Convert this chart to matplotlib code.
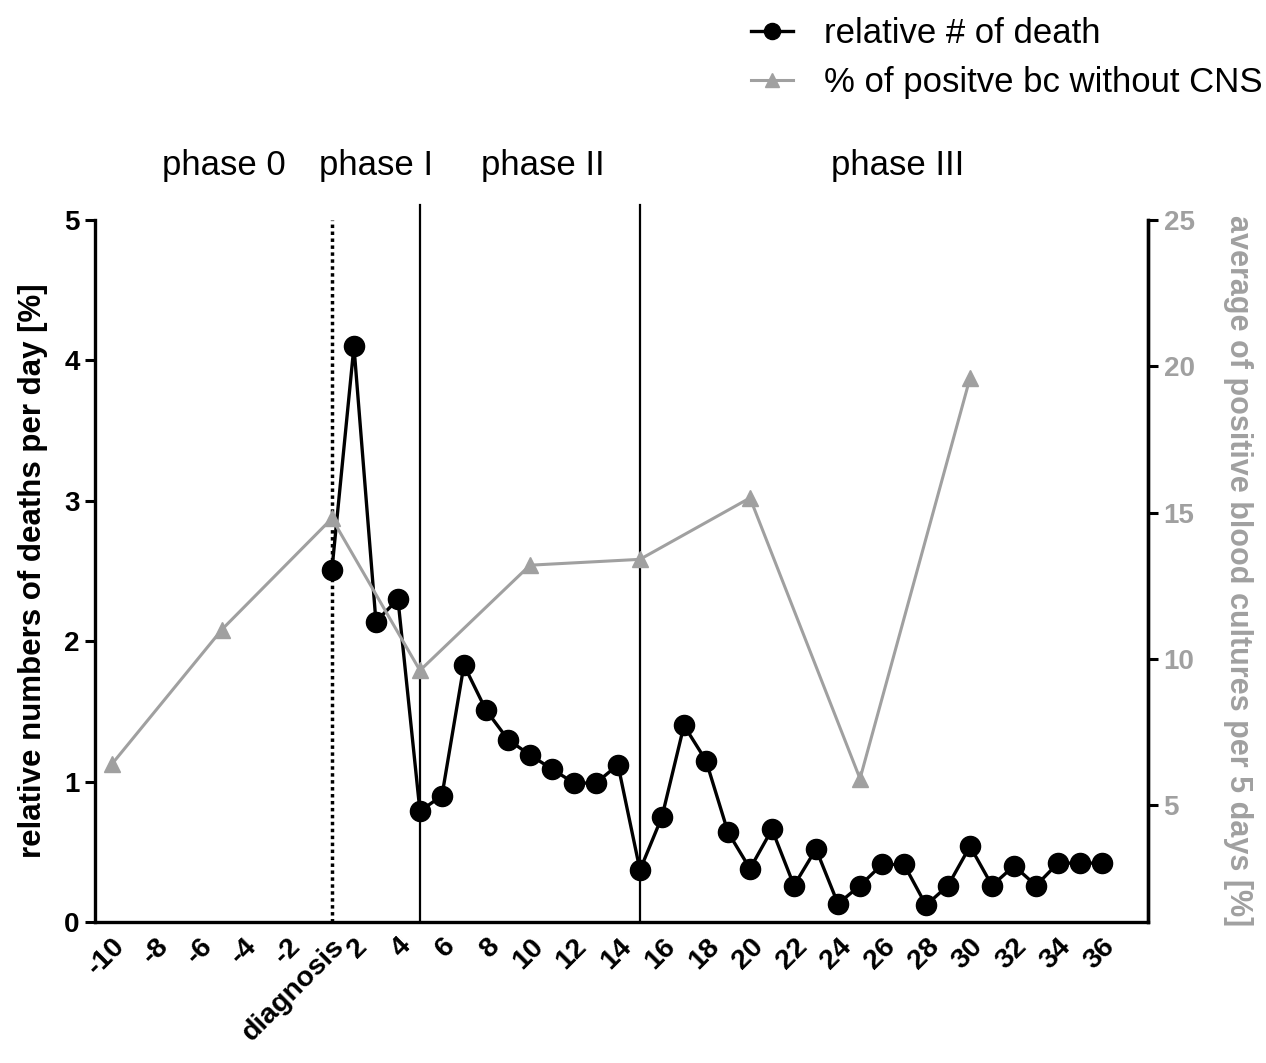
import matplotlib.pyplot as plt

plt.rcParams['font.family'] = ['Liberation Sans', 'DejaVu Sans']

GRAY = '#a0a0a0'

# day 1 = diagnosis; the axis has no separate day 0
death_days = list(range(1, 37))
death_pct = [2.51, 4.10, 2.14, 2.30, 0.79, 0.90, 1.83, 1.51, 1.30, 1.19,
             1.09, 0.99, 0.99, 1.12, 0.37, 0.75, 1.40, 1.15, 0.64, 0.38,
             0.66, 0.26, 0.52, 0.13, 0.26, 0.41, 0.41, 0.12, 0.26, 0.54,
             0.26, 0.40, 0.26, 0.42, 0.42, 0.42]

bc_days = [-10, -5, 1, 5, 10, 15, 20, 25, 30]
bc_pct = [6.4, 11.0, 14.8, 9.6, 13.2, 13.4, 15.5, 5.9, 19.6]

tick_days = [-10, -8, -6, -4, -2, 1, 2, 4, 6, 8, 10, 12, 14, 16, 18, 20,
             22, 24, 26, 28, 30, 32, 34, 36]
tick_labels = ['-10', '-8', '-6', '-4', '-2', 'diagnosis', '2', '4', '6', '8',
               '10', '12', '14', '16', '18', '20', '22', '24', '26', '28',
               '30', '32', '34', '36']

phase_names = ['phase 0', 'phase I', 'phase II', 'phase III']
phase_days = [-4.9, 3.0, 10.6, 26.7]
phase_lines = [1, 5, 15]


def pos(d):
    # negative days sit on their own value, diagnosis (day 1) sits on 0
    return d if d <= 0 else d - 1


fig = plt.figure(figsize=(12.66, 10.63), dpi=100)
ax = fig.add_axes([0.075, 0.1326, 0.832, 0.6604])
ax2 = ax.twinx()

ax2.plot([pos(d) for d in bc_days], bc_pct, color=GRAY, lw=2.2,
         marker='^', ms=12, label='% of positve bc without CNS')
ax.plot([pos(d) for d in death_days], death_pct, color='black', lw=2.4,
        marker='o', ms=14.5, label='relative # of death', zorder=5)

ax.plot([pos(phase_lines[0])] * 2, [0, 5], color='black', lw=2.5,
        ls=(0, (1, 1)), clip_on=False)
for d in phase_lines[1:]:
    ax.plot([pos(d)] * 2, [0, 5.11], color='black', lw=1.6, clip_on=False)

for name, d in zip(phase_names, phase_days):
    ax.text(pos(d), 5.39, name, ha='center', va='center', fontsize=25)

ax.set_xlim(-10.77, 37.1)
ax.set_ylim(0, 5)
ax2.set_ylim(1, 25)
ax.set_yticks([0, 1, 2, 3, 4, 5])
ax2.set_yticks([5, 10, 15, 20, 25])

ax.set_xticks([pos(d) for d in tick_days])
ax.set_xticklabels(tick_labels, rotation=45, ha='right',
                   rotation_mode='anchor', fontsize=20.5, fontweight='bold')
ax.tick_params(axis='x', length=0, pad=8)
ax.tick_params(axis='y', length=7, width=2.2, labelsize=20, pad=4)
for lab in ax.get_yticklabels():
    lab.set_fontweight('bold')
ax2.tick_params(axis='y', length=7, width=2.2, labelsize=20, pad=4,
                labelcolor=GRAY)
for lab in ax2.get_yticklabels():
    lab.set_fontweight('bold')

ax.set_ylabel('relative numbers of deaths per day [%]', fontsize=22.5,
              fontweight='bold', labelpad=12)
ax2.set_ylabel('average of positive blood cultures per 5 days [%]',
               fontsize=22, fontweight='bold', color=GRAY, rotation=270,
               labelpad=42)

for a in (ax, ax2):
    a.spines['top'].set_visible(False)
    for s in ('left', 'right', 'bottom'):
        a.spines[s].set_linewidth(2.4)
ax2.spines['left'].set_visible(False)
ax2.spines['bottom'].set_visible(False)

h1, l1 = ax.get_legend_handles_labels()
h2, l2 = ax2.get_legend_handles_labels()
fig.legend(h1 + h2, l1 + l2, loc='upper right', bbox_to_anchor=(1.022, 1.013),
           frameon=False, fontsize=25, handlelength=1.2, handletextpad=0.9,
           labelspacing=0.45, markerscale=0.8)

fig.savefig('out.png', dpi=100)
